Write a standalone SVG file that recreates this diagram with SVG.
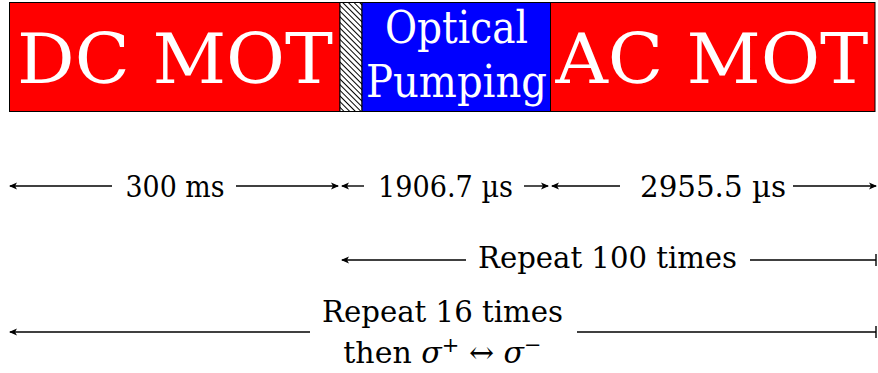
<svg xmlns="http://www.w3.org/2000/svg" width="878" height="373" viewBox="0 0 878 373">
<style>
.box{stroke:#000;stroke-width:1}
.big{font-family:'DejaVu Serif','Liberation Serif',serif;fill:#fff;text-anchor:middle}
.lbl{font-family:'DejaVu Serif','Liberation Serif',serif;fill:#000;font-size:30px;text-anchor:middle}
.ln{stroke:#000;stroke-width:1.4;fill:none}
</style>
<defs>
<pattern id="hatch" patternUnits="userSpaceOnUse" width="4" height="10" patternTransform="rotate(-45)">
<rect width="4" height="10" fill="#fff"/>
<line x1="0.5" y1="0" x2="0.5" y2="10" stroke="#000" stroke-width="1"/>
</pattern>
<marker id="ah" viewBox="-10 -5 12 10" refX="0" refY="0" markerWidth="12" markerHeight="10" markerUnits="userSpaceOnUse" orient="auto">
<path d="M1,0 L-7,-3.5 L-5,0 L-7,3.5Z" fill="#000"/>
</marker>
<marker id="bar" viewBox="-2 -7 4 14" refX="0" refY="0" markerWidth="4" markerHeight="14" markerUnits="userSpaceOnUse" orient="auto">
<line x1="0" y1="-6" x2="0" y2="6" stroke="#000" stroke-width="1.4"/>
</marker>
</defs>
<g id="dc-mot">
<rect class="box" x="9.5" y="2.5" width="330.5" height="109" fill="#ff0000"/>
<text class="big" x="175" y="83" font-size="70" textLength="316" lengthAdjust="spacingAndGlyphs">DC MOT</text>
</g>
<g id="transition">
<rect class="box" x="340" y="2.5" width="22" height="109" fill="url(#hatch)"/>
</g>
<g id="optical-pumping">
<rect class="box" x="362" y="2.5" width="188.5" height="109" fill="#0000ff"/>
<text class="big" x="456.5" y="43" font-size="44" textLength="143" lengthAdjust="spacingAndGlyphs">Optical</text>
<text class="big" x="456.5" y="97" font-size="44" textLength="181" lengthAdjust="spacingAndGlyphs">Pumping</text>
</g>
<g id="ac-mot">
<rect class="box" x="550.5" y="2.5" width="324.5" height="109" fill="#ff0000"/>
<text class="big" x="712" y="83" font-size="70" textLength="313" lengthAdjust="spacingAndGlyphs">AC MOT</text>
</g>
<g id="connectors">
<line class="ln" x1="112" y1="186" x2="10" y2="186" marker-end="url(#ah)"/>
<line class="ln" x1="236" y1="186" x2="338" y2="186" marker-end="url(#ah)"/>
<line class="ln" x1="364" y1="186" x2="342" y2="186" marker-end="url(#ah)"/>
<line class="ln" x1="524" y1="186" x2="548" y2="186" marker-end="url(#ah)"/>
<line class="ln" x1="620" y1="186" x2="552" y2="186" marker-end="url(#ah)"/>
<line class="ln" x1="793" y1="186" x2="876" y2="186" marker-end="url(#ah)"/>
<line class="ln" x1="466" y1="260" x2="342" y2="260" marker-end="url(#ah)"/>
<line class="ln" x1="750" y1="260" x2="876" y2="260" marker-end="url(#bar)"/>
<line class="ln" x1="310" y1="332" x2="10" y2="332" marker-end="url(#ah)"/>
<line class="ln" x1="577" y1="332" x2="876" y2="332" marker-end="url(#bar)"/>
</g>
<g id="labels">
<text class="lbl" x="175" y="197" textLength="99" lengthAdjust="spacingAndGlyphs">300 ms</text>
<text class="lbl" x="445.5" y="197" textLength="135" lengthAdjust="spacingAndGlyphs">1906.7 µs</text>
<text class="lbl" x="713" y="197" textLength="146" lengthAdjust="spacingAndGlyphs">2955.5 µs</text>
<text class="lbl" x="607.5" y="268" textLength="259" lengthAdjust="spacingAndGlyphs">Repeat 100 times</text>
<text class="lbl" x="442.5" y="322" textLength="241" lengthAdjust="spacingAndGlyphs">Repeat 16 times</text>
<text class="lbl" x="442.5" y="363">then <tspan font-style="italic">σ</tspan><tspan font-size="21" dy="-11">+</tspan><tspan dy="11"> ↔ </tspan><tspan font-style="italic">σ</tspan><tspan font-size="21" dy="-11">−</tspan></text>
</g>
</svg>
